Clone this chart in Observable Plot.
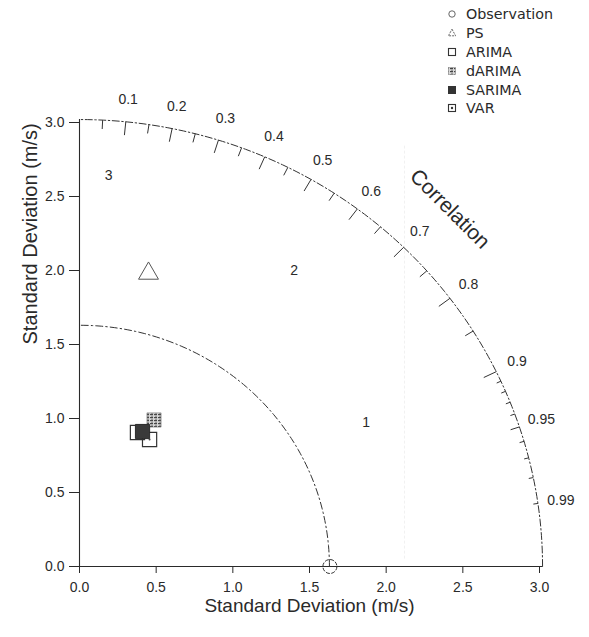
<!DOCTYPE html>
<html><head><meta charset="utf-8">
<script src="https://cdn.jsdelivr.net/npm/d3@7"></script>
<script src="https://cdn.jsdelivr.net/npm/@observablehq/plot@0.6"></script>
<style>
body{margin:0;background:#fff;}
#wrap{position:relative;width:589px;height:637px;overflow:hidden;background:#fff;}
#wrap svg.plot{position:absolute;left:0;top:0;}
#legend{position:absolute;left:446px;top:5px;font-family:"DejaVu Sans",sans-serif;font-size:14.3px;color:#2a2a2a;}
#legend .row{height:18.8px;display:flex;align-items:center;white-space:nowrap;}
#legend .row svg{width:12px;height:12px;margin-right:8px;flex:none;}
</style></head><body><div id="wrap"></div>
<script>
// ---- data ----
const obsSD = 1.63;          // reference (observation) standard deviation
const maxSD = 3.02;          // outer radius of the diagram
const xTicks = [0, 0.5, 1, 1.5, 2, 2.5, 3];
const yTicks = [0, 0.5, 1, 1.5, 2, 2.5, 3];
const corrMajor = [0.1, 0.2, 0.3, 0.4, 0.5, 0.6, 0.7, 0.8, 0.9];
const corrMedium = [0.05, 0.15, 0.25, 0.35, 0.45, 0.55, 0.65, 0.75, 0.85, 0.95];
const corrMinor = [0.91, 0.92, 0.93, 0.94, 0.96, 0.97, 0.98, 0.99];
const corrLabels = [0.1, 0.2, 0.3, 0.4, 0.5, 0.6, 0.7, 0.8, 0.9, 0.95, 0.99];
const models = ["Observation", "PS", "ARIMA", "dARIMA", "SARIMA", "VAR"];
const modelX = [1.633, 0.45, 0.378, 0.486, 0.411, 0.457];
const modelY = [0.0, 1.98, 0.905, 0.99, 0.912, 0.858];
const regionNames = ["1", "2", "3"];
const regionX = [1.87, 1.40, 0.19];
const regionY = [0.97, 2.00, 2.64];
const foldX = [2.12];

// ---- build ----
const pts = models.map((m, i) => ({name: m, x: modelX[i], y: modelY[i]}));
const P = n => pts.filter(d => d.name === n);
const regions = regionNames.map((t, i) => ({t, x: regionX[i], y: regionY[i]}));
const arc = r => d3.range(0, 91).map(a => ({x: r * Math.cos(a * Math.PI / 180), y: r * Math.sin(a * Math.PI / 180)}));
const s = c => Math.sqrt(1 - c * c);
const tick = (arr, f) => Plot.link(arr, {
  x1: c => maxSD * c, y1: c => maxSD * s(c),
  x2: c => f * maxSD * c, y2: c => f * maxSD * s(c),
  stroke: "#333", strokeWidth: 1
});
const ink = "#2a2a2a";

const chart = Plot.plot({
  width: 589, height: 637,
  marginLeft: 79, marginRight: 50, marginTop: 122, marginBottom: 71,
  x: {domain: [0, 3]}, y: {domain: [0, 3]},
  style: {fontFamily: "Liberation Sans, Arial, sans-serif", fontSize: "14px", color: ink, background: "#fff"},
  marks: [
    Plot.ruleX(foldX, {y1: 0.05, y2: 2.85, stroke: "#f1f1f1", strokeWidth: 1, strokeDasharray: "3,2"}),
    Plot.ruleY([0], {x1: 0, x2: maxSD, stroke: ink, strokeWidth: 1.1}),
    Plot.ruleX([0], {y1: 0, y2: maxSD, stroke: ink, strokeWidth: 1.1}),
    Plot.line(arc(maxSD), {x: "x", y: "y", stroke: "#333", strokeWidth: 1, strokeDasharray: "7,2.5,1.5,2.5"}),
    Plot.line(arc(obsSD), {x: "x", y: "y", stroke: "#333", strokeWidth: 1, strokeDasharray: "7,3,1.5,3"}),
    tick(corrMajor, 0.97),
    tick(corrMedium, 0.98),
    tick(corrMinor, 0.99),
    Plot.text(corrLabels, {
      x: c => 1.05 * maxSD * c, y: c => 1.05 * maxSD * s(c),
      text: c => String(c), fontSize: 14, fill: ink
    }),
    Plot.text(["Correlation"], {x: () => 0.8 * maxSD, y: () => 0.8 * maxSD, rotate: 45, fontSize: 21, fill: ink}),
    Plot.text(regions, {x: "x", y: "y", text: "t", fontSize: 14, fill: ink}),
    Plot.axisX(xTicks, {tickFormat: d3.format(".1f"), tickSize: 7, tickPadding: 9, label: null, fontSize: 14}),
    Plot.axisY(yTicks, {tickFormat: d3.format(".1f"), tickSize: 10, tickPadding: 5, label: null, fontSize: 14}),
    Plot.text(["Standard Deviation (m/s)"], {frameAnchor: "bottom", dy: 45, fontSize: 19, fill: ink}),
    Plot.text(["Standard Deviation (m/s)"], {frameAnchor: "left", dx: -49, rotate: -90, fontSize: 20, fill: ink}),
    // model points
    Plot.dot(P("Observation"), {x: "x", y: "y", r: 7, stroke: "#333", fill: "none", strokeWidth: 1, strokeDasharray: "4,1.5"}),
    Plot.dot(P("PS"), {x: "x", y: "y", symbol: "triangle", r: 7.4, stroke: "#555", fill: "none", strokeWidth: 1}),
    Plot.dot(P("VAR"), {x: "x", y: "y", symbol: "square", r: 8, stroke: "#333", fill: "none", strokeWidth: 1.2}),
    Plot.dot(P("VAR"), {x: "x", y: "y", r: 1, fill: "#444"}),
    Plot.dot(P("ARIMA"), {x: "x", y: "y", symbol: "square", r: 8, stroke: "#333", fill: "none", strokeWidth: 1.2}),
    Plot.dot(P("dARIMA"), {x: "x", y: "y", symbol: "square", r: 8, stroke: "#777", fill: "url(#hatch)", strokeWidth: 0.6}),
    Plot.dot(P("SARIMA"), {x: "x", y: "y", symbol: "square", r: 8, stroke: "#2b2b2b", fill: "#3a3a3a", strokeWidth: 1})
  ]
});
const svg = chart.tagName.toLowerCase() === "svg" ? chart : chart.querySelector("svg");
svg.classList.add("plot");
const defs = `<defs><pattern id="hatch" width="4" height="3" patternUnits="userSpaceOnUse">
<rect width="4" height="3" fill="#d8d8d8"/><rect y="0" width="3" height="1.2" fill="#444"/><rect x="1" y="1.8" width="2" height="0.8" fill="#777"/></pattern></defs>`;
svg.insertAdjacentHTML("afterbegin", defs);
const wrap = document.getElementById("wrap");
wrap.appendChild(chart);

// legend
const sym = {
  "Observation": `<circle cx="6" cy="6" r="3.2" fill="none" stroke="#666" stroke-width="1"/>`,
  "PS": `<path d="M6 2.2 L9.6 8.8 L2.4 8.8 Z" fill="none" stroke="#666" stroke-width="1" stroke-dasharray="2,1"/>`,
  "ARIMA": `<rect x="2.5" y="2.5" width="7" height="7" fill="none" stroke="#333" stroke-width="1.1"/>`,
  "dARIMA": `<rect x="2.5" y="2.5" width="7" height="7" fill="url(#hatch)" stroke="#777" stroke-width="0.5"/>`,
  "SARIMA": `<rect x="2.5" y="2.5" width="7" height="7" fill="#333" stroke="#333" stroke-width="1"/>`,
  "VAR": `<rect x="2.5" y="2.5" width="7" height="7" fill="none" stroke="#333" stroke-width="1.1"/><circle cx="6" cy="6" r="1.2" fill="#333"/>`
};
const lg = document.createElement("div");
lg.id = "legend";
lg.innerHTML = models.map(m => `<div class="row"><svg viewBox="0 0 12 12">${sym[m]}</svg><span>${m}</span></div>`).join("");
wrap.appendChild(lg);
</script></body></html>
